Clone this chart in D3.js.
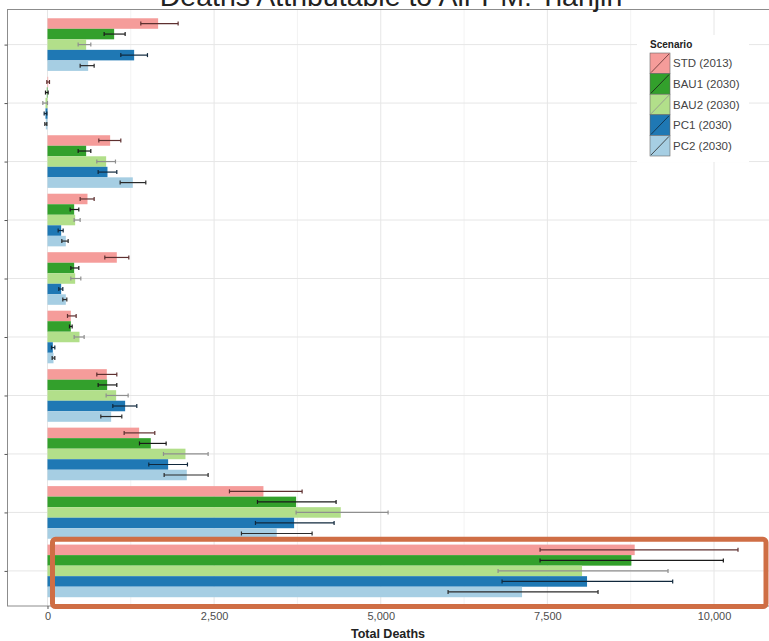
<!DOCTYPE html>
<html>
<head>
<meta charset="utf-8">
<script src="https://cdn.jsdelivr.net/npm/d3@7"></script>
<style>
    body { margin: 0; background: #fff; }
    svg { display: block; font-family: "Liberation Sans", Arial, sans-serif; }
</style>
</head>
<body>
<div id="chart"></div>
<script>
// Groups, top to bottom (the reference shows no labels for them)
const categories = ["G1", "G2", "G3", "G4", "G5", "G6", "G7", "G8", "G9", "G10"];
const scenarios = ["STD (2013)", "BAU1 (2030)", "BAU2 (2030)", "PC1 (2030)", "PC2 (2030)"];
const scenarioColors = ["#f59c9a", "#33a02c", "#b2df8a", "#1f78b4", "#a6cee3"];
const errorColors = ["#5e3030", "#1a1a1a", "#8f8f8f", "#10283c", "#2a2a2a"];

// Total deaths per scenario (one value per group)
const valSTD  = [1660, 10, 940, 600, 1040, 350, 890, 1375, 3240, 8810];
const valBAU1 = [1000, -10, 580, 400, 400, 350, 895, 1550, 3730, 8760];
const valBAU2 = [580, -30, 880, 415, 415, 480, 1030, 2070, 4400, 8020];
const valPC1  = [1300, -30, 900, 205, 205, 80, 1165, 1810, 3700, 8095];
const valPC2  = [610, -25, 1280, 275, 275, 90, 955, 2090, 3440, 7120];

// Lower / upper ends of the error bars
const lowSTD  = [1400, -10, 770, 490, 860, 300, 740, 1150, 2730, 7390];
const lowBAU1 = [850, -30, 460, 340, 350, 330, 760, 1380, 3150, 7390];
const lowBAU2 = [460, -70, 740, 400, 350, 400, 880, 1740, 3730, 6760];
const lowPC1  = [1100, -50, 760, 160, 170, 60, 980, 1520, 3120, 6820];
const lowPC2  = [490, -40, 1090, 215, 230, 70, 800, 1750, 2910, 6010];

const highSTD  = [1960, 30, 1100, 700, 1220, 430, 1040, 1610, 3820, 10360];
const highBAU1 = [1165, 10, 650, 470, 470, 370, 1040, 1780, 4330, 10140];
const highBAU2 = [650, 0, 1020, 490, 500, 550, 1210, 2410, 5110, 9310];
const highPC1  = [1500, -10, 1040, 235, 230, 110, 1340, 2100, 4300, 9380];
const highPC2  = [700, -10, 1475, 310, 290, 110, 1115, 2410, 3970, 8260];

const xTicks = [0, 2500, 5000, 7500, 10000];
const xMinorTicks = [1250, 3750, 6250, 8750];

function drawChart(containerId = "chart") {
    const values = [valSTD, valBAU1, valBAU2, valPC1, valPC2];
    const lows = [lowSTD, lowBAU1, lowBAU2, lowPC1, lowPC2];
    const highs = [highSTD, highBAU1, highBAU2, highPC1, highPC2];

    // Flatten into rows
    const rows = [];
    categories.forEach((c, i) => {
        scenarios.forEach((s, j) => {
            rows.push({ cat: c, scen: s, si: j, v: values[j][i], lo: lows[j][i], hi: highs[j][i] });
        });
    });

    const W = 769, H = 641;
    const panel = { left: 7.5, top: 9.5, right: 780, bottom: 606 };

    const svg = d3.select(`#${containerId}`)
        .append("svg")
        .attr("width", W)
        .attr("height", H);

    // Scales
    const x = d3.scaleLinear()
        .domain([-600, 10990])
        .range([panel.left, panel.right]);

    const y = d3.scalePoint()
        .domain(categories)
        .range([panel.top, panel.bottom])
        .padding(0.6);

    const step = y.step();
    const inner = d3.scaleBand()
        .domain(scenarios)
        .range([-step * 0.45, step * 0.45]);

    // Grid lines
    const grid = svg.append("g");
    grid.selectAll(".minor")
        .data(xMinorTicks)
        .join("line")
        .attr("x1", d => x(d)).attr("x2", d => x(d))
        .attr("y1", panel.top).attr("y2", panel.bottom)
        .attr("stroke", "#f3f3f3").attr("stroke-width", 1);
    grid.selectAll(".major")
        .data(xTicks)
        .join("line")
        .attr("x1", d => x(d)).attr("x2", d => x(d))
        .attr("y1", panel.top).attr("y2", panel.bottom)
        .attr("stroke", "#e6e6e6").attr("stroke-width", 1);
    grid.selectAll(".hmajor")
        .data(categories)
        .join("line")
        .attr("x1", panel.left).attr("x2", panel.right)
        .attr("y1", d => y(d)).attr("y2", d => y(d))
        .attr("stroke", "#e6e6e6").attr("stroke-width", 1);

    // Bars
    svg.append("g")
        .selectAll("rect")
        .data(rows)
        .join("rect")
        .attr("x", d => x(Math.min(0, d.v)))
        .attr("width", d => Math.abs(x(d.v) - x(0)))
        .attr("y", d => y(d.cat) + inner(d.scen))
        .attr("height", inner.bandwidth())
        .attr("fill", d => scenarioColors[d.si]);

    // Error bars
    const eb = svg.append("g")
        .selectAll("g")
        .data(rows)
        .join("g")
        .attr("stroke", d => errorColors[d.si])
        .attr("stroke-width", 1.2);
    eb.append("line")
        .attr("x1", d => x(d.lo)).attr("x2", d => x(d.hi))
        .attr("y1", d => y(d.cat) + inner(d.scen) + inner.bandwidth() / 2)
        .attr("y2", d => y(d.cat) + inner(d.scen) + inner.bandwidth() / 2);
    ["lo", "hi"].forEach(k => {
        eb.append("line")
            .attr("x1", d => x(d[k])).attr("x2", d => x(d[k]))
            .attr("y1", d => y(d.cat) + inner(d.scen) + inner.bandwidth() / 2 - 2)
            .attr("y2", d => y(d.cat) + inner(d.scen) + inner.bandwidth() / 2 + 2);
    });

    // Panel border
    svg.append("rect")
        .attr("x", panel.left).attr("y", panel.top)
        .attr("width", panel.right - panel.left)
        .attr("height", panel.bottom - panel.top)
        .attr("fill", "none")
        .attr("stroke", "#8c8c8c").attr("stroke-width", 1);

    // X axis
    const xAxis = svg.append("g")
        .attr("transform", `translate(0,${panel.bottom})`)
        .call(d3.axisBottom(x).tickValues(xTicks).tickSize(3).tickPadding(3)
            .tickFormat(d3.format(",")));
    xAxis.select(".domain").remove();
    xAxis.selectAll("line").attr("stroke", "#555");
    xAxis.selectAll("text")
        .attr("fill", "#4d4d4d")
        .style("font-size", "11px");

    // Y axis (ticks only, no labels)
    const yAxis = svg.append("g")
        .attr("transform", `translate(${panel.left},0)`)
        .call(d3.axisLeft(y).tickSize(3).tickFormat(""));
    yAxis.select(".domain").remove();
    yAxis.selectAll("line").attr("stroke", "#555");

    // Title (cut off by the top edge, as in the reference)
    svg.append("text")
        .attr("x", 391)
        .attr("y", 6)
        .attr("text-anchor", "middle")
        .attr("fill", "#222")
        .style("font-size", "28.5px")
        .text("Deaths Attributable to Air PM: Tianjin");

    // X axis label
    svg.append("text")
        .attr("x", 388)
        .attr("y", 638)
        .attr("text-anchor", "middle")
        .attr("fill", "#222")
        .style("font-size", "12.5px")
        .style("font-weight", "bold")
        .text("Total Deaths");

    // Legend
    const legend = svg.append("g").attr("transform", "translate(637,35)");
    legend.append("rect")
        .attr("width", 112).attr("height", 127)
        .attr("fill", "#fff");
    legend.append("text")
        .attr("x", 13).attr("y", 13)
        .attr("fill", "#222")
        .style("font-size", "10px")
        .style("font-weight", "bold")
        .text("Scenario");
    const items = legend.selectAll(".item")
        .data(scenarios)
        .join("g")
        .attr("transform", (d, i) => `translate(13,${18 + i * 20.6})`);
    items.append("rect")
        .attr("width", 20).attr("height", 20.6)
        .attr("fill", (d, i) => scenarioColors[i])
        .attr("stroke", "#666").attr("stroke-width", 0.6);
    items.append("line")
        .attr("x1", 1).attr("y1", 19.6).attr("x2", 19).attr("y2", 1)
        .attr("stroke", (d, i) => errorColors[i]).attr("stroke-width", 0.8);
    items.append("text")
        .attr("x", 23).attr("y", 10.3)
        .attr("dy", "0.35em")
        .attr("fill", "#444")
        .style("font-size", "11.5px")
        .text(d => d);

    // Highlight box around the last group
    const last = categories[categories.length - 1];
    svg.append("rect")
        .attr("x", x(75)).attr("y", y(last) - step * 0.54)
        .attr("width", x(10780) - x(75)).attr("height", step * 1.15)
        .attr("rx", 3)
        .attr("fill", "none")
        .attr("stroke", "#cf6e45")
        .attr("stroke-width", 5);
}

drawChart();
</script>
</body>
</html>
